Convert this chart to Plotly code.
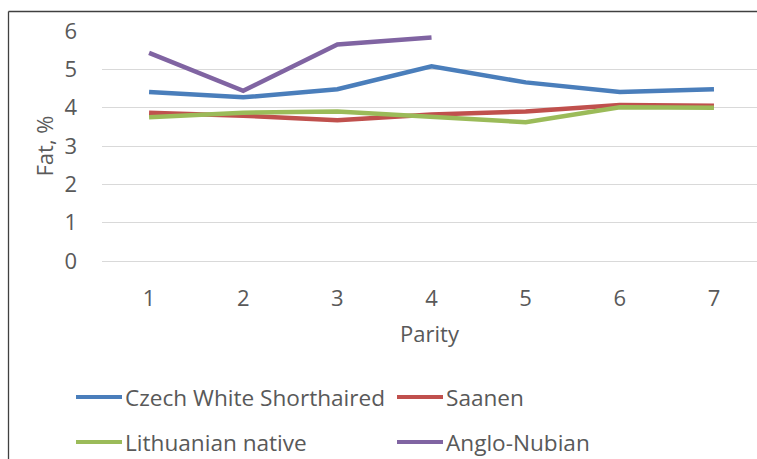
import plotly.graph_objects as go

parity = [1, 2, 3, 4, 5, 6, 7]
czech_white = [4.41, 4.27, 4.48, 5.08, 4.66, 4.41, 4.48]
saanen = [3.87, 3.79, 3.67, 3.82, 3.90, 4.07, 4.05]
lithuanian = [3.75, 3.87, 3.90, 3.76, 3.62, 4.01, 4.00]
anglo_nubian = [5.43, 4.44, 5.65, 5.83]

series_names = ["Czech White Shorthaired", "Saanen", "Lithuanian native", "Anglo-Nubian"]
series_values = [czech_white, saanen, lithuanian, anglo_nubian]
series_colors = ["#4A7EBB", "#C0504D", "#9BBB59", "#8064A2"]

FONT = "Open Sans, sans-serif"
GREY = "#595959"

# plot area in pixels
W, H = 757, 459
L, T, B = 102, 31, 198
PW, PH = W - L, H - T - B


def px_x(p):
    return (p - L) / PW


def px_y(p):
    return (H - B - p) / PH


fig = go.Figure()
for name, ys, color in zip(series_names, series_values, series_colors):
    fig.add_trace(go.Scatter(
        x=parity[:len(ys)], y=ys, name=name, mode="lines", showlegend=False,
        line=dict(color=color, width=4.5),
    ))

# two-column legend below the plot
shapes = []
annotations = []
legend_cols = [76, 397]
legend_rows = [397, 442]
for i, (name, color) in enumerate(zip(series_names, series_colors)):
    x0 = legend_cols[i % 2]
    y0 = legend_rows[i // 2]
    shapes.append(dict(type="line", xref="paper", yref="paper",
                       x0=px_x(x0), x1=px_x(x0 + 46), y0=px_y(y0), y1=px_y(y0),
                       line=dict(color=color, width=4)))
    annotations.append(dict(xref="paper", yref="paper", x=px_x(x0 + 47), y=px_y(y0),
                            xanchor="left", yanchor="middle", showarrow=False,
                            text=name, font=dict(family=FONT, size=22.6, color=GREY)))

# chart-area frame (left and top edges)
frame_x = px_x(8.5)
frame_y = px_y(11.5)
shapes += [
    dict(type="line", xref="paper", yref="paper", x0=frame_x, x1=frame_x,
         y0=-1.0, y1=frame_y, line=dict(color="#404040", width=1.3)),
    dict(type="line", xref="paper", yref="paper", x0=frame_x, x1=1.02,
         y0=frame_y, y1=frame_y, line=dict(color="#404040", width=1.3)),
]

fig.update_layout(
    width=W, height=H,
    margin=dict(l=L, r=0, t=T, b=B),
    paper_bgcolor="white", plot_bgcolor="white",
    font=dict(family=FONT, color=GREY),
    showlegend=False,
    xaxis=dict(
        range=[0.5, 7.457], tickmode="array", tickvals=parity,
        showgrid=False, zeroline=False, showline=False, ticks="",
        tickfont=dict(size=22, color=GREY), ticklabelstandoff=22,
        title=dict(text="Parity", font=dict(size=22, color=GREY), standoff=15),
    ),
    yaxis=dict(
        range=[0, 6], dtick=1, showgrid=True, gridcolor="#D9D9D9", gridwidth=1.3,
        zeroline=True, zerolinecolor="#D9D9D9", zerolinewidth=1.3,
        showline=False, ticks="",
        tickfont=dict(size=22, color=GREY), ticklabelstandoff=24,
        title=dict(text="Fat, %", font=dict(size=22, color=GREY), standoff=4),
    ),
    shapes=shapes,
    annotations=annotations,
)

fig.write_html("out.html")
